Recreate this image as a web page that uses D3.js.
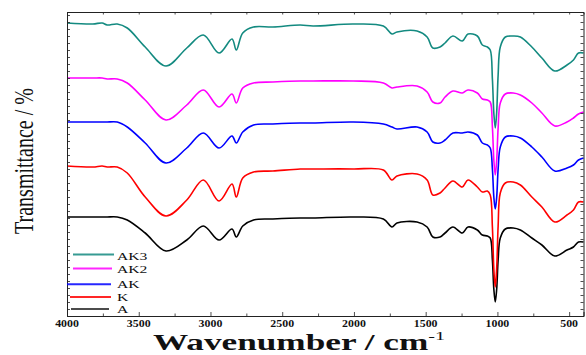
<!DOCTYPE html>
<html>
<head>
<meta charset="utf-8">
<script src="https://cdn.jsdelivr.net/npm/d3@7"></script>
<style>
  html, body { margin: 0; padding: 0; background: #fff; }
  svg { display: block; }
  text { font-family: "Liberation Serif", "Times New Roman", serif; fill: #111; }
</style>
</head>
<body>
<script>
// FTIR spectra, offset vertically (arbitrary transmittance units)
const wavenumbers = [4000, 3820, 3755, 3720, 3650, 3580, 3455, 3310, 3165, 3050,
                     2940, 2850, 2820, 2775, 2700, 2565, 2375, 2285, 2005, 1795,
                     1735, 1700, 1560, 1490, 1450, 1400, 1365, 1310, 1245, 1205,
                     1140, 1105, 1070, 1050, 1035, 1025, 1015, 1005, 995, 980,
                     945, 890, 840, 760, 690, 600, 515, 470, 435, 400];

const seriesA   = [99, 99, 99, 99, 99, 96, 83, 65, 76, 90, 76, 87, 79, 90, 96, 97, 98, 98, 99, 97,
                   89, 93, 94, 89, 79, 79, 83, 89, 83, 89, 86, 81, 80, 78, 56, 27, 14, 27, 56, 78,
                   87, 88, 86, 78, 71, 60, 66, 69, 74, 74];
const seriesK   = [150, 149, 150, 149, 149, 143, 119, 100, 116, 136, 115, 132, 119, 138, 144, 145, 147, 147, 147, 146,
                   136, 140, 142, 136, 121, 123, 128, 135, 129, 136, 129, 124, 125, 121, 89, 47, 29, 48, 90, 123,
                   133, 134, 131, 119, 109, 94, 101, 106, 114, 114];
const seriesAK  = [194, 194, 194, 194, 194, 189, 173, 153, 168, 183, 168, 180, 173, 184, 191, 192, 193, 193, 194, 192,
                   189, 187, 189, 184, 174, 173, 176, 183, 183, 184, 181, 173, 171, 168, 147, 119, 107, 119, 147, 169,
                   179, 180, 178, 169, 159, 145, 148, 151, 156, 158];
const seriesAK2 = [238, 238, 238, 237, 237, 233, 216, 196, 211, 226, 209, 222, 213, 228, 233, 234, 235, 235, 235, 233,
                   228, 229, 230, 224, 214, 213, 219, 225, 223, 226, 223, 217, 216, 214, 189, 156, 141, 156, 188, 213,
                   222, 223, 221, 213, 203, 190, 194, 198, 202, 204];
const seriesAK3 = [293, 292, 293, 291, 292, 288, 269, 250, 268, 281, 263, 277, 266, 283, 289, 289, 291, 290, 292, 290,
                   282, 284, 285, 279, 268, 269, 273, 280, 275, 282, 280, 271, 269, 266, 237, 203, 188, 204, 241, 269,
                   279, 280, 279, 269, 258, 245, 251, 256, 263, 263];

const seriesNames  = ["A", "K", "AK", "AK2", "AK3"];
const seriesColors = ["#000000", "#ff0000", "#0000ff", "#ff00ff", "#138a80"];
const seriesValues = [seriesA, seriesK, seriesAK, seriesAK2, seriesAK3];

const xTickValues = [4000, 3500, 3000, 2500, 2000, 1500, 1000, 500];
const xMinorTicks = [3750, 3250, 2750, 2250, 1750, 1250, 750];

const W = 586, H = 355;
const svg = d3.select("body").append("svg").attr("width", W).attr("height", H);

const x = d3.scaleLinear().domain([4000, 400]).range([67, 583.5]);
const y = d3.scaleLinear().domain([0, 304]).range([316, 12]);

// spectra: bottom trace first so the upper traces sit on top
const line = d3.line()
  .x((d, i) => x(wavenumbers[i]))
  .y(d => y(d))
  .curve(d3.curveCatmullRom.alpha(0.5));

svg.append("g").selectAll("path")
  .data(seriesValues)
  .join("path")
  .attr("d", d => line(d))
  .attr("fill", "none")
  .attr("stroke", (d, i) => seriesColors[i])
  .attr("stroke-width", 1.6)
  .attr("stroke-linejoin", "round");

// frame and ticks (all ticks point inward)
const axisColor = "#222";
const yTicks = d3.range(0, 305, 7);

const gB = svg.append("g").attr("transform", `translate(0,${y(0)})`)
  .call(d3.axisBottom(x).tickValues(xTickValues).tickSize(-4).tickFormat(""));
const gBm = svg.append("g").attr("transform", `translate(0,${y(0)})`)
  .call(d3.axisBottom(x).tickValues(xMinorTicks).tickSize(-2.5).tickFormat(""));
const gT = svg.append("g").attr("transform", `translate(0,${y(304)})`)
  .call(d3.axisTop(x).tickValues(xTickValues.concat(xMinorTicks)).tickSize(-2.5).tickFormat(""));
const gL = svg.append("g").attr("transform", `translate(${x(4000)},0)`)
  .call(d3.axisLeft(y).tickValues(yTicks).tickSize(-3).tickFormat(""));
const gR = svg.append("g").attr("transform", `translate(${x(400)},0)`)
  .call(d3.axisRight(y).tickValues(yTicks).tickSize(-3).tickFormat(""));

[gB, gBm, gT, gL, gR].forEach(g => {
  g.selectAll(".domain").attr("stroke", axisColor).attr("stroke-width", 1);
  g.selectAll(".tick line").attr("stroke", axisColor).attr("stroke-width", 0.8);
});
gBm.select(".domain").remove();

// x tick labels
svg.append("g").selectAll("text")
  .data(xTickValues)
  .join("text")
  .attr("transform", d => `translate(${x(d)},327.2) scale(1.25,1)`)
  .attr("text-anchor", "middle")
  .attr("font-size", 9.5)
  .attr("font-weight", "bold")
  .text(d => d);

// axis titles
const xTitle = svg.append("text")
  .attr("transform", "translate(153,350) scale(1.5,1)")
  .attr("font-size", 23.5)
  .attr("font-weight", "bold");
xTitle.append("tspan").text("Wavenumber / cm");
xTitle.append("tspan").attr("dy", -10.5).attr("font-size", 13.5).attr("font-weight", "normal").text("-1");

svg.append("text")
  .attr("transform", "translate(33,161) rotate(-90) scale(1,1.4)")
  .attr("text-anchor", "middle")
  .attr("font-size", 20)
  .text("Transmittance / %");

// legend
const legendRows = [
  { i: 4, ly: 254.5, x0: 73, x1: 114, ty: 259.5 },
  { i: 3, ly: 268.5, x0: 73, x1: 112, ty: 272.5 },
  { i: 2, ly: 284.3, x0: 67, x1: 111, ty: 288 },
  { i: 1, ly: 297,   x0: 70, x1: 111, ty: 300.5 },
  { i: 0, ly: 309,   x0: 71, x1: 109, ty: 312.5 }
];
const lg = svg.append("g");
legendRows.forEach(r => {
  lg.append("line")
    .attr("x1", r.x0).attr("x2", r.x1)
    .attr("y1", r.ly).attr("y2", r.ly)
    .attr("stroke", seriesColors[r.i])
    .attr("stroke-opacity", r.i === 0 ? 0.7 : 0.85)
    .attr("stroke-width", 2);
  lg.append("text")
    .attr("transform", `translate(117,${r.ty}) scale(1.42,1)`)
    .attr("font-size", 11)
    .text(seriesNames[r.i]);
});
</script>
</body>
</html>
